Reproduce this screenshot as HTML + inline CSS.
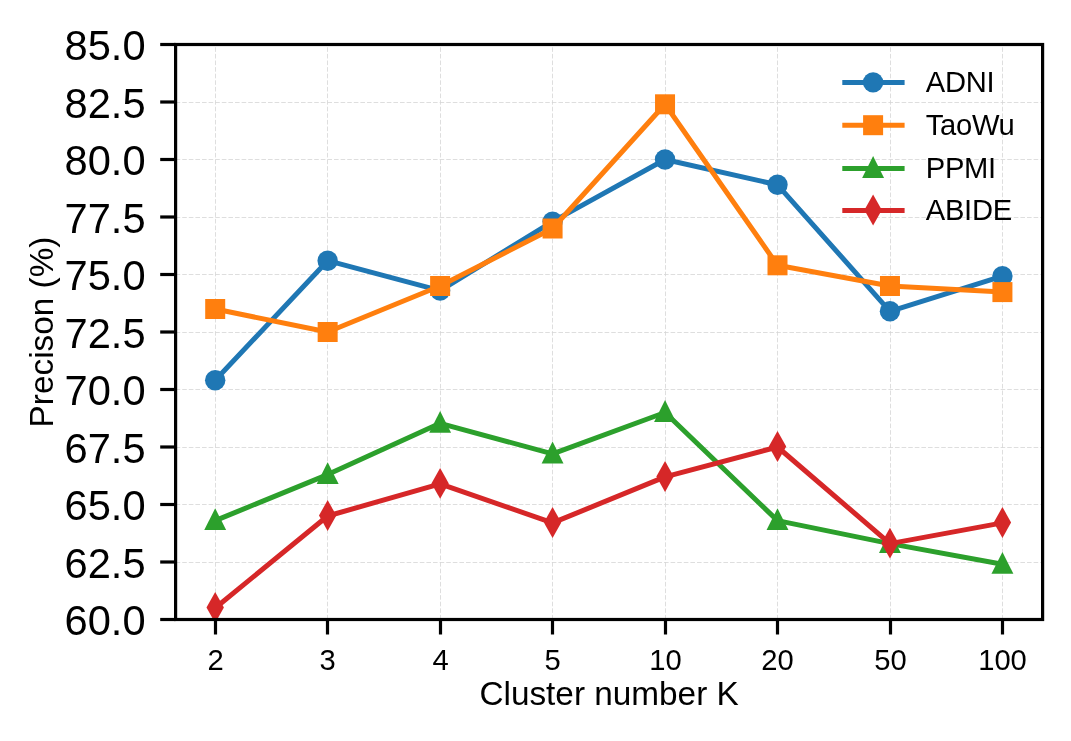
<!DOCTYPE html>
<html lang="en">
<head>
<meta charset="utf-8">
<title>Precision vs cluster number K</title>
<style>
html,body{margin:0;padding:0;background:#fff;}
body{width:1071px;height:741px;overflow:hidden;}
svg{display:block;will-change:transform;}
svg text{font-family:"Liberation Sans",Arial,Helvetica,sans-serif;fill:#000;}
</style>
</head>
<body>
<svg width="1071" height="741" viewBox="0 0 1071 741">
<rect x="0" y="0" width="1071" height="741" fill="#ffffff"/>
<defs><clipPath id="ax"><rect x="175.6" y="44.5" width="866.9999999999999" height="575.0"/></clipPath></defs>
<g stroke="#d6d6d6" stroke-width="0.8" stroke-dasharray="4.6 2" fill="none">
<line x1="215.50" y1="619.5" x2="215.50" y2="44.5"/>
<line x1="327.50" y1="619.5" x2="327.50" y2="44.5"/>
<line x1="440.50" y1="619.5" x2="440.50" y2="44.5"/>
<line x1="552.50" y1="619.5" x2="552.50" y2="44.5"/>
<line x1="665.50" y1="619.5" x2="665.50" y2="44.5"/>
<line x1="777.50" y1="619.5" x2="777.50" y2="44.5"/>
<line x1="890.50" y1="619.5" x2="890.50" y2="44.5"/>
<line x1="1002.50" y1="619.5" x2="1002.50" y2="44.5"/>
<line x1="175.6" y1="562.50" x2="1042.6" y2="562.50"/>
<line x1="175.6" y1="504.50" x2="1042.6" y2="504.50"/>
<line x1="175.6" y1="447.50" x2="1042.6" y2="447.50"/>
<line x1="175.6" y1="389.50" x2="1042.6" y2="389.50"/>
<line x1="175.6" y1="332.50" x2="1042.6" y2="332.50"/>
<line x1="175.6" y1="274.50" x2="1042.6" y2="274.50"/>
<line x1="175.6" y1="217.50" x2="1042.6" y2="217.50"/>
<line x1="175.6" y1="159.50" x2="1042.6" y2="159.50"/>
<line x1="175.6" y1="102.50" x2="1042.6" y2="102.50"/>
</g>
<g clip-path="url(#ax)">
<polyline points="215.20,380.30 327.66,260.70 440.12,290.60 552.58,221.60 665.04,159.50 777.50,184.80 889.96,311.30 1002.42,276.11" fill="none" stroke="#1f77b4" stroke-width="5.0" stroke-linejoin="round" stroke-linecap="butt"/>
<circle cx="215.20" cy="380.30" r="10.2" fill="#1f77b4"/>
<circle cx="327.66" cy="260.70" r="10.2" fill="#1f77b4"/>
<circle cx="440.12" cy="290.60" r="10.2" fill="#1f77b4"/>
<circle cx="552.58" cy="221.60" r="10.2" fill="#1f77b4"/>
<circle cx="665.04" cy="159.50" r="10.2" fill="#1f77b4"/>
<circle cx="777.50" cy="184.80" r="10.2" fill="#1f77b4"/>
<circle cx="889.96" cy="311.30" r="10.2" fill="#1f77b4"/>
<circle cx="1002.42" cy="276.11" r="10.2" fill="#1f77b4"/>
<polyline points="215.20,309.00 327.66,332.00 440.12,286.00 552.58,228.50 665.04,104.30 777.50,265.30 889.96,286.00 1002.42,292.10" fill="none" stroke="#ff7f0e" stroke-width="5.0" stroke-linejoin="round" stroke-linecap="butt"/>
<rect x="205.20" y="299.00" width="20.0" height="20.0" fill="#ff7f0e"/>
<rect x="317.66" y="322.00" width="20.0" height="20.0" fill="#ff7f0e"/>
<rect x="430.12" y="276.00" width="20.0" height="20.0" fill="#ff7f0e"/>
<rect x="542.58" y="218.50" width="20.0" height="20.0" fill="#ff7f0e"/>
<rect x="655.04" y="94.30" width="20.0" height="20.0" fill="#ff7f0e"/>
<rect x="767.50" y="255.30" width="20.0" height="20.0" fill="#ff7f0e"/>
<rect x="879.96" y="276.00" width="20.0" height="20.0" fill="#ff7f0e"/>
<rect x="992.42" y="282.10" width="20.0" height="20.0" fill="#ff7f0e"/>
<polyline points="215.20,520.60 327.66,474.60 440.12,423.31 552.58,453.90 665.04,412.50 777.50,520.60 889.96,543.60 1002.42,564.30" fill="none" stroke="#2ca02c" stroke-width="5.0" stroke-linejoin="round" stroke-linecap="butt"/>
<polygon points="215.20,508.20 204.25,530.10 226.15,530.10" fill="#2ca02c"/>
<polygon points="327.66,462.20 316.71,484.10 338.61,484.10" fill="#2ca02c"/>
<polygon points="440.12,410.91 429.17,432.81 451.07,432.81" fill="#2ca02c"/>
<polygon points="552.58,441.50 541.63,463.40 563.53,463.40" fill="#2ca02c"/>
<polygon points="665.04,400.10 654.09,422.00 675.99,422.00" fill="#2ca02c"/>
<polygon points="777.50,508.20 766.55,530.10 788.45,530.10" fill="#2ca02c"/>
<polygon points="889.96,531.20 879.01,553.10 900.91,553.10" fill="#2ca02c"/>
<polygon points="1002.42,551.90 991.47,573.80 1013.37,573.80" fill="#2ca02c"/>
<polyline points="215.20,608.00 327.66,516.00 440.12,483.80 552.58,522.90 665.04,476.90 777.50,447.00 889.96,543.60 1002.42,522.90" fill="none" stroke="#d62728" stroke-width="5.0" stroke-linejoin="round" stroke-linecap="butt"/>
<polygon points="215.20,592.10 206.50,607.60 215.20,623.00 223.90,607.60" fill="#d62728"/>
<polygon points="327.66,500.10 318.96,515.60 327.66,531.00 336.36,515.60" fill="#d62728"/>
<polygon points="440.12,467.90 431.42,483.40 440.12,498.80 448.82,483.40" fill="#d62728"/>
<polygon points="552.58,507.00 543.88,522.50 552.58,537.90 561.28,522.50" fill="#d62728"/>
<polygon points="665.04,461.00 656.34,476.50 665.04,491.90 673.74,476.50" fill="#d62728"/>
<polygon points="777.50,431.10 768.80,446.60 777.50,462.00 786.20,446.60" fill="#d62728"/>
<polygon points="889.96,527.70 881.26,543.20 889.96,558.60 898.66,543.20" fill="#d62728"/>
<polygon points="1002.42,507.00 993.72,522.50 1002.42,537.90 1011.12,522.50" fill="#d62728"/>
</g>
<g stroke="#000" stroke-width="3.2">
<line x1="215.50" y1="619.5" x2="215.50" y2="634.50"/>
<line x1="327.50" y1="619.5" x2="327.50" y2="634.50"/>
<line x1="440.50" y1="619.5" x2="440.50" y2="634.50"/>
<line x1="552.50" y1="619.5" x2="552.50" y2="634.50"/>
<line x1="665.50" y1="619.5" x2="665.50" y2="634.50"/>
<line x1="777.50" y1="619.5" x2="777.50" y2="634.50"/>
<line x1="890.50" y1="619.5" x2="890.50" y2="634.50"/>
<line x1="1002.50" y1="619.5" x2="1002.50" y2="634.50"/>
<line x1="175.6" y1="619.50" x2="160.20" y2="619.50"/>
<line x1="175.6" y1="562.00" x2="160.20" y2="562.00"/>
<line x1="175.6" y1="504.50" x2="160.20" y2="504.50"/>
<line x1="175.6" y1="447.00" x2="160.20" y2="447.00"/>
<line x1="175.6" y1="389.50" x2="160.20" y2="389.50"/>
<line x1="175.6" y1="332.00" x2="160.20" y2="332.00"/>
<line x1="175.6" y1="274.50" x2="160.20" y2="274.50"/>
<line x1="175.6" y1="217.00" x2="160.20" y2="217.00"/>
<line x1="175.6" y1="159.50" x2="160.20" y2="159.50"/>
<line x1="175.6" y1="102.00" x2="160.20" y2="102.00"/>
<line x1="175.6" y1="44.50" x2="160.20" y2="44.50"/>
</g>
<rect x="175.6" y="44.5" width="866.9999999999999" height="575.0" fill="none" stroke="#000" stroke-width="3.2" stroke-linejoin="miter"/>
<g font-size="41.67" text-anchor="end">
<text x="145.6" y="635.30">60.0</text>
<text x="145.6" y="577.80">62.5</text>
<text x="145.6" y="520.30">65.0</text>
<text x="145.6" y="462.80">67.5</text>
<text x="145.6" y="405.30">70.0</text>
<text x="145.6" y="347.80">72.5</text>
<text x="145.6" y="290.30">75.0</text>
<text x="145.6" y="232.80">77.5</text>
<text x="145.6" y="175.30">80.0</text>
<text x="145.6" y="117.80">82.5</text>
<text x="145.6" y="60.30">85.0</text>
</g>
<g font-size="29.17" text-anchor="middle">
<text x="215.50" y="670.2">2</text>
<text x="327.50" y="670.2">3</text>
<text x="440.50" y="670.2">4</text>
<text x="552.50" y="670.2">5</text>
<text x="665.50" y="670.2">10</text>
<text x="777.50" y="670.2">20</text>
<text x="890.50" y="670.2">50</text>
<text x="1002.50" y="670.2">100</text>
</g>
<text x="609.10" y="705.0" font-size="33.33" text-anchor="middle">Cluster number K</text>
<text transform="translate(52.5,332.00) rotate(-90)" font-size="33.33" text-anchor="middle">Precison (%)</text>
<g font-size="29.17" letter-spacing="-0.3">
<line x1="842.3" y1="82.4" x2="904.6" y2="82.4" stroke="#1f77b4" stroke-width="5.0"/>
<circle cx="873.10" cy="82.40" r="10.2" fill="#1f77b4"/>
<text x="925.8" y="92.00">ADNI</text>
<line x1="842.3" y1="125.2" x2="904.6" y2="125.2" stroke="#ff7f0e" stroke-width="5.0"/>
<rect x="863.10" y="115.20" width="20.0" height="20.0" fill="#ff7f0e"/>
<text x="925.8" y="134.80">TaoWu</text>
<line x1="842.3" y1="168.4" x2="904.6" y2="168.4" stroke="#2ca02c" stroke-width="5.0"/>
<polygon points="873.10,156.00 862.15,177.90 884.05,177.90" fill="#2ca02c"/>
<text x="925.8" y="178.00">PPMI</text>
<line x1="842.3" y1="210.4" x2="904.6" y2="210.4" stroke="#d62728" stroke-width="5.0"/>
<polygon points="873.10,194.50 864.40,210.00 873.10,225.40 881.80,210.00" fill="#d62728"/>
<text x="925.8" y="220.00">ABIDE</text>
</g>
</svg>
</body>
</html>
